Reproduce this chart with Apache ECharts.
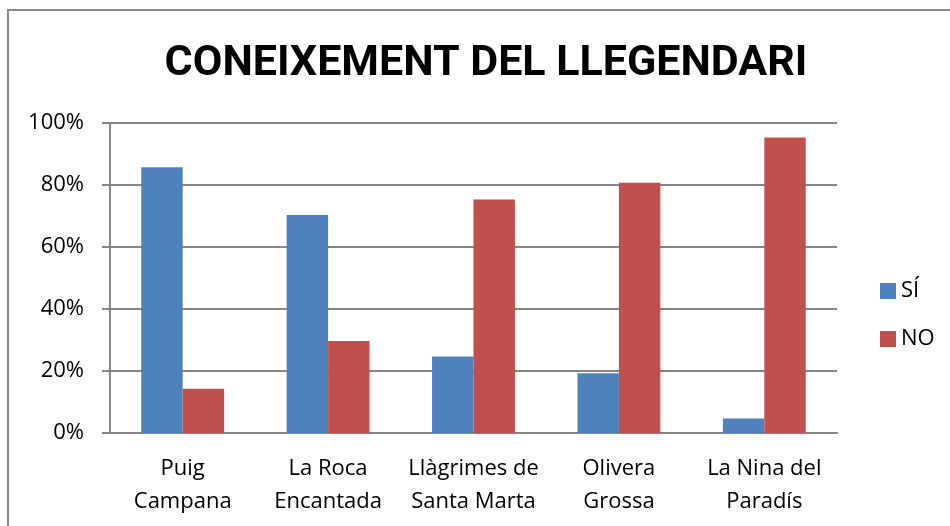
<!DOCTYPE html>
<html>
<head>
<meta charset="utf-8">
<script src="https://cdn.jsdelivr.net/npm/echarts@6/dist/echarts.min.js"></script>
<style>
    html, body { margin: 0; padding: 0; background: #fff; }
    #chart { width: 950px; height: 526px; }
</style>
</head>
<body>
<div id="chart"></div>
<script>
//--------------------------------
// Data
//--------------------------------
const categories = ['Puig\nCampana', 'La Roca\nEncantada', 'Llàgrimes de\nSanta Marta', 'Olivera\nGrossa', 'La Nina del\nParadís'];
const siValues = [85.7, 70.3, 24.7, 19.3, 4.7];
const noValues = [14.3, 29.7, 75.3, 80.7, 95.3];
const seriesNames = ['SÍ', 'NO'];
const titleText = 'CONEIXEMENT DEL LLEGENDARI';

//--------------------------------
// Style
//--------------------------------
const bodyFont = "'Open Sans', 'Noto Sans', sans-serif";
const titleFont = "Roboto, 'Open Sans', sans-serif";
const gridColor = '#868686';

var myChart = echarts.init(document.getElementById('chart'));

let options = {
    backgroundColor: '#fff',
    animation: false,
    title: {
        text: titleText,
        left: 486,
        top: 43,
        padding: 0,
        textAlign: 'center',
        textStyle: {
            fontFamily: titleFont,
            fontWeight: 'bold',
            fontSize: 43,
            color: '#000'
        }
    },
    legend: {
        orient: 'vertical',
        left: 880,
        top: 280,
        padding: 0,
        itemWidth: 16,
        itemHeight: 16,
        itemGap: 26,
        icon: 'rect',
        data: seriesNames,
        textStyle: {
            fontFamily: bodyFont,
            fontSize: 22,
            color: '#000'
        }
    },
    grid: {
        left: 110,
        right: 113,
        top: 123,
        bottom: 93,
        containLabel: false
    },
    xAxis: {
        type: 'category',
        data: categories,
        axisLine: { show: true, lineStyle: { color: gridColor, width: 2 } },
        axisTick: { show: false },
        axisLabel: {
            interval: 0,
            margin: 19,
            lineHeight: 33,
            fontFamily: bodyFont,
            fontSize: 22,
            color: '#000'
        }
    },
    yAxis: {
        type: 'value',
        min: 0,
        max: 100,
        interval: 20,
        axisLine: { show: true, lineStyle: { color: gridColor, width: 2 } },
        axisTick: { show: true, length: 8, lineStyle: { color: gridColor, width: 2 } },
        axisLabel: {
            formatter: '{value}%',
            margin: 26,
            fontFamily: bodyFont,
            fontSize: 22,
            color: '#000'
        },
        splitLine: { show: true, lineStyle: { color: gridColor, width: 2 } }
    },
    series: [
        {
            name: seriesNames[0],
            type: 'bar',
            barGap: '0%',
            barCategoryGap: '43%',
            itemStyle: { color: '#4F81BD' },
            data: siValues
        },
        {
            name: seriesNames[1],
            type: 'bar',
            barGap: '0%',
            barCategoryGap: '43%',
            itemStyle: { color: '#C0504D' },
            data: noValues
        }
    ],
    graphic: [
        {
            // chart frame (only top and left edges show in the crop)
            type: 'rect',
            silent: true,
            z: -1,
            shape: { x: 8, y: 10, width: 1000, height: 600 },
            style: { fill: 'none', stroke: '#8c8c8c', lineWidth: 2 }
        }
    ]
};
myChart.setOption(options);
</script>
</body>
</html>
